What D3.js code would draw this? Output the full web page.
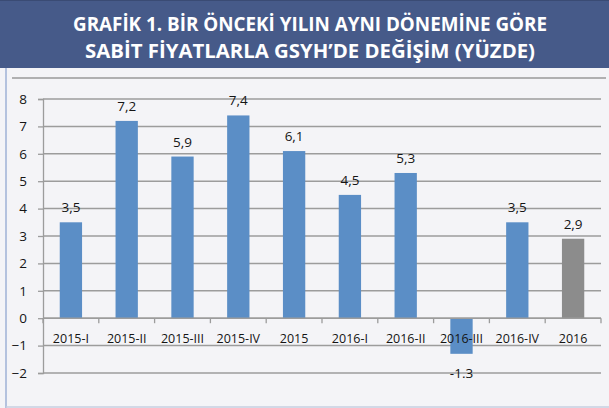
<html>
<head>
    <script src="https://d3js.org/d3.v7.min.js"></script>
    <style>
        body { margin: 0; background: #f4f4f7; }
        text { font-family: "Open Sans", sans-serif; }
    </style>
</head>
<body>
<div id="chart"></div>
<script type="text/javascript">
    // data
    var categories = ["2015-I", "2015-II", "2015-III", "2015-IV", "2015", "2016-I", "2016-II", "2016-III", "2016-IV", "2016"];
    var values = [3.5, 7.2, 5.9, 7.4, 6.1, 4.5, 5.3, -1.3, 3.5, 2.9];
    var valueLabels = ["3,5", "7,2", "5,9", "7,4", "6,1", "4,5", "5,3", "-1.3", "3,5", "2,9"];
    var yTicks = [-2, -1, 0, 1, 2, 3, 4, 5, 6, 7, 8];
    var titleLines = ["GRAFİK 1. BİR ÖNCEKİ YILIN AYNI DÖNEMİNE GÖRE", "SABİT FİYATLARLA GSYH’DE DEĞİŞİM (YÜZDE)"];

    var W = 609, H = 408;
    var svg = d3.select("#chart").append("svg")
        .attr("width", W)
        .attr("height", H);

    // background + frame
    svg.append("rect").attr("width", W).attr("height", H).attr("fill", "#f4f4f7");
    svg.append("rect").attr("x", 0).attr("y", 0).attr("width", W).attr("height", 68).attr("fill", "#465a89");
    svg.append("line").attr("x1", 0).attr("x2", W).attr("y1", 0.5).attr("y2", 0.5).attr("stroke", "#3a4b74");
    svg.append("line").attr("x1", 6).attr("x2", 6).attr("y1", 68).attr("y2", 408).attr("stroke", "#9fb2d6").attr("stroke-width", 1.5);
    svg.append("line").attr("x1", 6).attr("x2", W).attr("y1", 407).attr("y2", 407).attr("stroke", "#c7cfe0").attr("stroke-width", 1.5);
    svg.append("line").attr("x1", 12).attr("x2", 606).attr("y1", 78).attr("y2", 78).attr("stroke", "#9a9a9a").attr("stroke-width", 1.5);

    // title
    svg.selectAll(".title")
        .data(titleLines)
      .enter().append("text")
        .attr("class", "title")
        .attr("x", 310)
        .attr("y", function (d, i) { return 31 + i * 27; })
        .attr("text-anchor", "middle")
        .attr("textLength", function (d, i) { return i == 0 ? 474 : 450; })
        .attr("lengthAdjust", "spacingAndGlyphs")
        .style("font-size", "20px")
        .style("font-weight", "bold")
        .style("fill", "#ffffff")
        .text(function (d) { return d; });

    // scales
    var left = 43, right = 601;
    var x = d3.scaleBand().domain(categories).range([left, right]).paddingInner(0.6).paddingOuter(0.3);
    var y = d3.scaleLinear().domain([-2, 8]).range([373, 99]);

    // gridlines
    svg.selectAll(".grid")
        .data(yTicks)
      .enter().append("line")
        .attr("class", "grid")
        .attr("x1", left)
        .attr("x2", right)
        .attr("y1", function (d) { return y(d); })
        .attr("y2", function (d) { return y(d); })
        .attr("stroke", "#9c9c9c")
        .attr("stroke-width", 1.5);

    // y axis
    var yAxis = svg.append("g")
        .attr("transform", "translate(" + left + ",0)")
        .call(d3.axisLeft(y).tickValues(yTicks).tickSize(5).tickPadding(11).tickFormat(d3.format("d")));
    yAxis.selectAll("line, path").attr("stroke", "#9c9c9c").attr("stroke-width", 1.3);
    yAxis.selectAll("text").style("font-size", "13.5px").style("fill", "#151515");

    // bars
    svg.selectAll(".bar")
        .data(values)
      .enter().append("rect")
        .attr("class", "bar")
        .attr("x", function (d, i) { return x(categories[i]); })
        .attr("width", x.bandwidth())
        .attr("y", function (d) { return y(Math.max(0, d)); })
        .attr("height", function (d) { return Math.abs(y(d) - y(0)); })
        .attr("fill", function (d, i) { return i == categories.length - 1 ? "#8c8c8c" : "#5b8ec6"; });

    // x axis on zero line, ticks between categories
    var xAxis = svg.append("g")
        .attr("transform", "translate(0," + y(0) + ")");
    xAxis.append("line")
        .attr("x1", left).attr("x2", right)
        .attr("stroke", "#9c9c9c").attr("stroke-width", 1.5);
    xAxis.selectAll(".xtick")
        .data(d3.range(categories.length + 1))
      .enter().append("line")
        .attr("class", "xtick")
        .attr("x1", function (i) { return left + i * x.step(); })
        .attr("x2", function (i) { return left + i * x.step(); })
        .attr("y1", 0).attr("y2", 5)
        .attr("stroke", "#9c9c9c").attr("stroke-width", 1.3);
    xAxis.selectAll(".xlabel")
        .data(categories)
      .enter().append("text")
        .attr("class", "xlabel")
        .attr("x", function (d) { return x(d) + x.bandwidth() / 2; })
        .attr("y", 25)
        .attr("text-anchor", "middle")
        .style("font-size", "12.5px")
        .style("fill", "#151515")
        .text(function (d) { return d; });

    // value labels
    svg.selectAll(".vlabel")
        .data(values)
      .enter().append("text")
        .attr("class", "vlabel")
        .attr("x", function (d, i) { return x(categories[i]) + x.bandwidth() / 2; })
        .attr("y", function (d) { return d >= 0 ? y(d) - 10 : y(d) + 24; })
        .attr("text-anchor", "middle")
        .style("font-size", "13.5px")
        .style("fill", "#151515")
        .text(function (d, i) { return valueLabels[i]; });
</script>
</body>
</html>
